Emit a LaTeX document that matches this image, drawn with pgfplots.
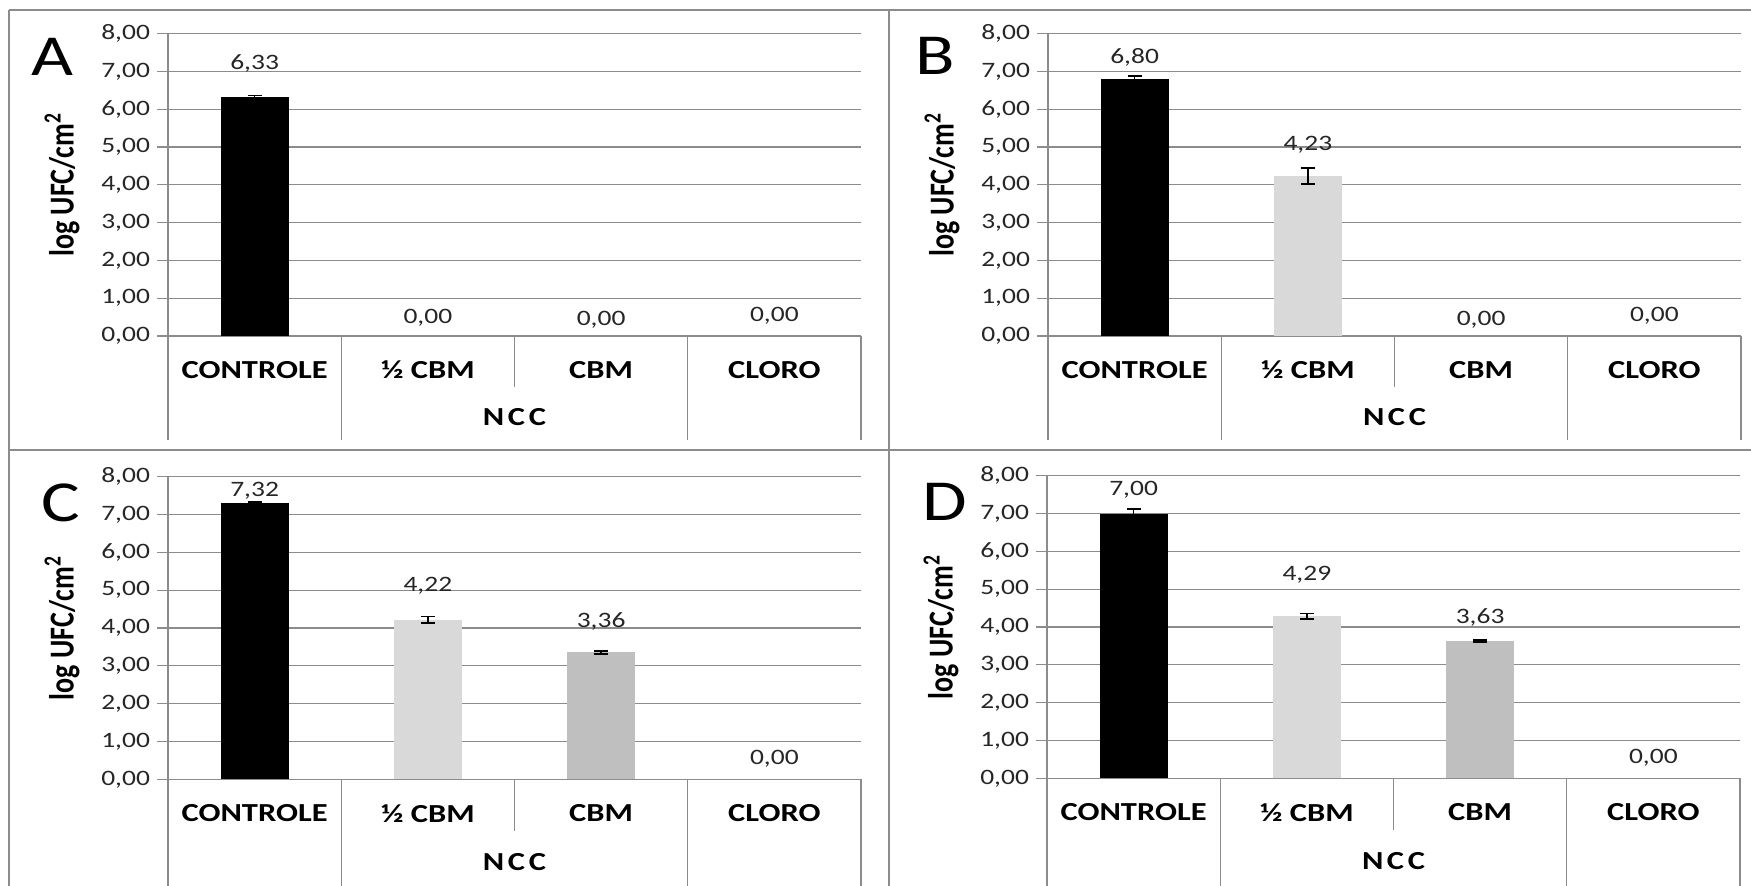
\documentclass[border=0pt]{standalone}
\usepackage{fontspec}
\setmainfont{Carlito}[FakeStretch=1.25]
\newfontfamily\ylabfont{Carlito}
\usepackage{graphicx}
\usepackage{pgfplots}
\pgfplotsset{compat=1.18}
\usepackage{pgfplotstable}

\definecolor{gridgray}{HTML}{8C8C8C}
\definecolor{lightbar}{HTML}{D9D9D9}
\definecolor{midbar}{HTML}{BFBFBF}
\definecolor{txt}{HTML}{262626}
\definecolor{framegray}{HTML}{8C8C8C}

% value labels: x, label height (data units), value
\pgfplotstableread{
x ly v
0.5 7.20 6.33
1.5 0.47 0
2.5 0.42 0
3.5 0.53 0
}\labA
\pgfplotstableread{
x ly v
0.5 7.36 6.80
1.5 5.07 4.23
2.5 0.42 0
3.5 0.53 0
}\labB
\pgfplotstableread{
x ly v
0.5 7.63 7.32
1.5 5.11 4.22
2.5 4.17 3.36
3.5 0.53 0
}\labC
\pgfplotstableread{
x ly v
0.5 7.64 7.00
1.5 5.38 4.29
2.5 4.25 3.63
3.5 0.53 0
}\labD

\tikzset{seps/.style={gridgray, line width=0.7pt}}

\pgfplotsset{
  panel/.style={
    width=346.5pt, height=151.25pt, scale only axis,
    anchor=south west,
    xmin=0, xmax=4, ymin=0, ymax=8,
    axis x line*=bottom, axis y line*=left,
    axis line style={gridgray, line width=0.7pt, -},
    ytick={0,1,...,8},
    ymajorgrids, grid style={gridgray, line width=0.6pt},
    major tick length=5.5pt, tick align=outside,
    ytick style={gridgray, line width=0.6pt},
    xtick={0.5,1.5,2.5,3.5},
    xticklabels={CONTROLE, ½ CBM, CBM, CLORO},
    xtick style={draw=none},
    xticklabel style={font=\fontsize{13}{15}\selectfont\bfseries, anchor=center, yshift=-11.5pt},
    yticklabel style={font=\fontsize{11}{13}\selectfont, color=txt,
      /pgf/number format/.cd, fixed, fixed zerofill, precision=2, use comma, assume math mode=true},
    ylabel={\scalebox{1}[1.25]{\ylabfont\fontsize{14}{16}\selectfont\bfseries log UFC/cm\textsuperscript{2}}},
    every axis y label/.style={at={(axis description cs:0,0.5)}, xshift=-53pt, rotate=90, anchor=center},
    clip=false,
    bar width=34pt,
  },
  databar/.style={ybar, bar shift=0pt, draw=none, fill=#1,
    error bars/.cd, y dir=both, y explicit,
    error bar style={black, line width=0.8pt},
    error mark options={rotate=90, mark size=3.5pt, black, line width=0.8pt}},
  vlabels/.style={draw=none, mark=none, nodes near coords, point meta=explicit,
    nodes near coords style={anchor=center, font=\fontsize{11}{13}\selectfont, color=txt,
      /pgf/number format/.cd, fixed, fixed zerofill, precision=2, use comma, assume math mode=true}},
}

\newcommand{\separators}[1]{%
  \draw[seps] (axis cs:0,0) -- (axis cs:0,-#1);
  \draw[seps] (axis cs:1,0) -- (axis cs:1,-#1);
  \draw[seps] (axis cs:2,0) -- (axis cs:2,-1.36);
  \draw[seps] (axis cs:3,0) -- (axis cs:3,-#1);
  \draw[seps] (axis cs:4,0) -- (axis cs:4,-#1);
}

\begin{document}
\begin{tikzpicture}
\path[use as bounding box] (0,0) rectangle (875.5pt,443pt);

% panel frame
\draw[framegray, line width=1pt] (4.5pt,438pt) -- (875.5pt,438pt);
\draw[framegray, line width=1pt] (4.5pt,438pt) -- (4.5pt,0pt);
\draw[framegray, line width=1pt] (444.5pt,438pt) -- (444.5pt,0pt);
\draw[framegray, line width=1pt] (4.5pt,218pt) -- (875.5pt,218pt);

% Panel A
\begin{axis}[panel, at={(84pt,275pt)}]
\addplot[databar=black] coordinates {(0.5,6.33) +- (0,0.03)};
\addplot[vlabels] table[x=x, y=ly, meta=v] {\labA};
\separators{2.75}
\node[font=\fontsize{13}{15}\selectfont\bfseries] at (axis cs:2,-2.15) {N\kern1.8pt C\kern1.8pt C};
\end{axis}

% Panel B
\begin{axis}[panel, at={(524pt,275pt)}]
\addplot[databar=black] coordinates {(0.5,6.80) +- (0,0.07)};
\addplot[databar=lightbar] coordinates {(1.5,4.23) +- (0,0.21)};
\addplot[vlabels] table[x=x, y=ly, meta=v] {\labB};
\separators{2.75}
\node[font=\fontsize{13}{15}\selectfont\bfseries] at (axis cs:2,-2.15) {N\kern1.8pt C\kern1.8pt C};
\end{axis}

% Panel C
\begin{axis}[panel, at={(84pt,53.35pt)}]
\addplot[databar=black] coordinates {(0.5,7.32) +- (0,0.02)};
\addplot[databar=lightbar] coordinates {(1.5,4.22) +- (0,0.08)};
\addplot[databar=midbar] coordinates {(2.5,3.36) +- (0,0.04)};
\addplot[vlabels] table[x=x, y=ly, meta=v] {\labC};
\separators{2.9}
\node[font=\fontsize{13}{15}\selectfont\bfseries] at (axis cs:2,-2.2) {N\kern1.8pt C\kern1.8pt C};
\end{axis}

% Panel D
\begin{axis}[panel, at={(523.5pt,53.85pt)}]
\addplot[databar=black] coordinates {(0.5,7.00) +- (0,0.12)};
\addplot[databar=lightbar] coordinates {(1.5,4.29) +- (0,0.07)};
\addplot[databar=midbar] coordinates {(2.5,3.63) +- (0,0.03)};
\addplot[vlabels] table[x=x, y=ly, meta=v] {\labD};
\separators{2.9}
\node[font=\fontsize{13}{15}\selectfont\bfseries] at (axis cs:2,-2.2) {N\kern1.8pt C\kern1.8pt C};
\end{axis}

% panel letters
\node[anchor=west, inner sep=0pt, font=\fontsize{29}{29}\selectfont] at (15.5pt,414.5pt) {A};
\node[anchor=west, inner sep=0pt, font=\fontsize{29}{29}\selectfont] at (457.5pt,415pt) {B};
\node[anchor=west, inner sep=0pt, font=\fontsize{29}{29}\selectfont] at (20.5pt,191.5pt) {C};
\node[anchor=west, inner sep=0pt, font=\fontsize{29}{29}\selectfont] at (461pt,192pt) {D};
\end{tikzpicture}
\end{document}
